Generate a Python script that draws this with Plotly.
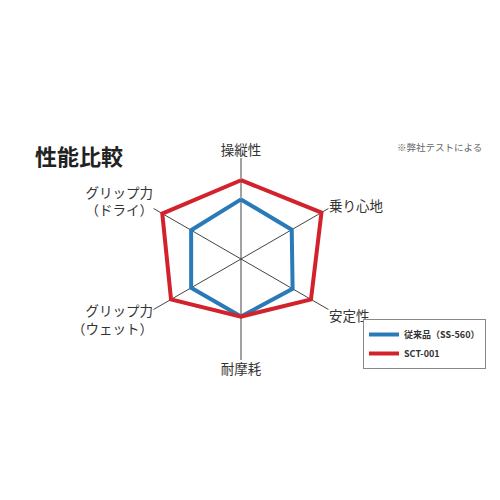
import plotly.graph_objects as go

categories = ["操縦性", "乗り心地", "安定性", "耐摩耗", "グリップ力<br>（ウェット）", "グリップ力<br>（ドライ）"]
old_values = [2.95, 2.9, 2.95, 2.85, 2.85, 2.85]
new_values = [3.9, 4.6, 4.0, 2.85, 4.0, 4.5]
series_names = ["従来品（SS-560）", "SCT-001"]
colors = ["#2a7ab8", "#d2222c"]

FONT = "Noto Sans CJK JP"

fig = go.Figure()
for name, vals, col in zip(series_names, [old_values, new_values], colors):
    fig.add_trace(go.Scatterpolar(
        r=vals + vals[:1],
        theta=categories + categories[:1],
        mode="lines",
        name=name,
        line=dict(color=col, width=4),
    ))

fig.update_layout(
    width=500, height=500,
    margin=dict(l=0, r=0, t=0, b=0),
    paper_bgcolor="white",
    plot_bgcolor="white",
    font=dict(family=FONT, color="#333333"),
    polar=dict(
        domain=dict(x=[0.264, 0.668], y=[0.296, 0.70]),
        bgcolor="white",
        radialaxis=dict(range=[0, 5], visible=False, showgrid=False),
        angularaxis=dict(
            rotation=90, direction="clockwise",
            showline=False, showgrid=True, gridcolor="#444444", gridwidth=1,
            ticks="", tickfont=dict(size=13.5, color="#333333", family=FONT),
        ),
        gridshape="circular",
    ),
    legend=dict(
        x=0.71, y=0.378, xanchor="left", yanchor="top",
        bordercolor="#888888", borderwidth=1, bgcolor="white",
        font=dict(size=9, color="#333333", family=FONT, weight="bold"),
        tracegroupgap=0, itemwidth=30,
    ),
    showlegend=True,
    annotations=[
        dict(text="<b>性能比較</b>", x=0.05, y=0.706, xref="paper", yref="paper",
             xanchor="left", yanchor="middle", showarrow=False,
             font=dict(size=22, color="#222222", family=FONT)),
        dict(text="※弊社テストによる", x=0.774, y=0.722, xref="paper", yref="paper",
             xanchor="left", yanchor="middle", showarrow=False,
             font=dict(size=9.5, color="#666666", family=FONT)),
    ],
)

fig.write_html("out.html")
